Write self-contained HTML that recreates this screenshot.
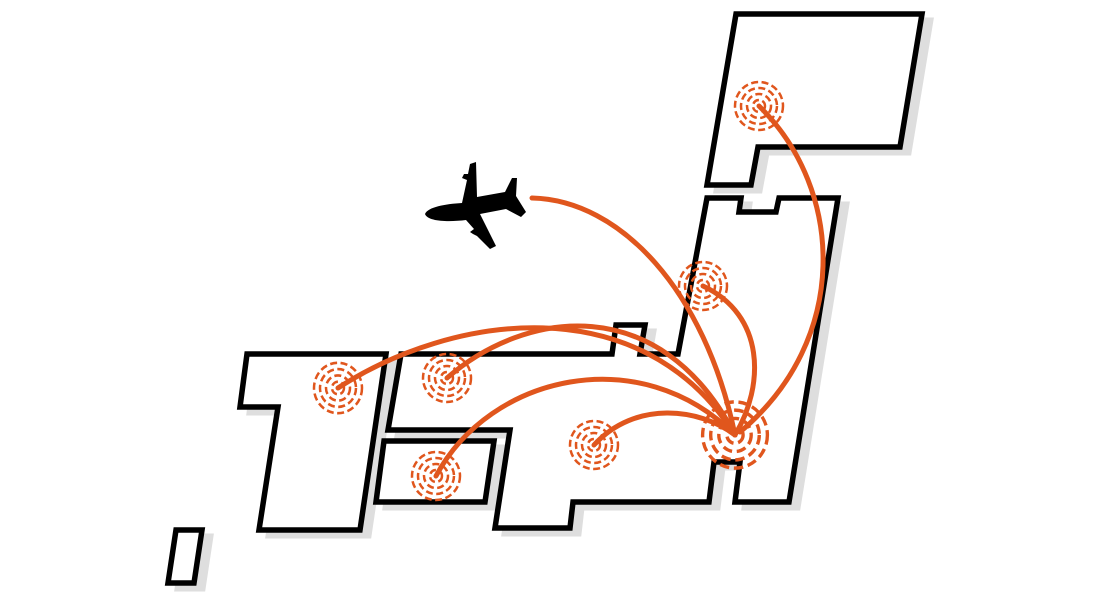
<!DOCTYPE html>
<html><head><style>html,body{margin:0;padding:0;background:#fff}svg{display:block}</style></head>
<body>
<svg width="1100" height="600" viewBox="0 0 1100 600" xmlns="http://www.w3.org/2000/svg">
<defs>
<g id="land">
<polygon points="736,14 922,14 900,147 758,147 751,185 707,185"/>
<polygon points="707,198 741,198 739,212 776,212 779,198 838,198 789,502 735,502 740,462 714,462 709,502 573,502 570,528 495,528 510,430 388,430 401,354 612,354 616,325 645,325 640,354 678,354"/>
<polygon points="247,354 386,354 360,530 259,530 278,407 240,407"/>
<polygon points="384,441 494,441 485,502 376,502"/>
<polygon points="176,530 202,530 194,583 168,583"/>
</g>
<g id="tgt" fill="none" stroke="#e0561d" stroke-width="2.5" stroke-dasharray="7,3.5">
<ellipse cx="0" cy="0" rx="24" ry="24"/>
<ellipse cx="0" cy="0" rx="18" ry="18"/>
<ellipse cx="0" cy="0" rx="12" ry="12"/>
<ellipse cx="0" cy="0" rx="6" ry="6"/>
</g>
</defs>
<use href="#land" transform="translate(9,6)" fill="#dedede" stroke="#dedede" stroke-width="5"/>
<use href="#land" fill="#fff" stroke="#000" stroke-width="5.5" stroke-linejoin="miter"/>
<use href="#tgt" transform="translate(759,106)"/>
<use href="#tgt" transform="translate(703,286)"/>
<use href="#tgt" transform="translate(338,388) scale(1,1.05)"/>
<use href="#tgt" transform="translate(447,378)"/>
<use href="#tgt" transform="translate(436,476)"/>
<use href="#tgt" transform="translate(594,445)"/>
<use href="#tgt" transform="translate(735,435) scale(1.35,1.38)"/>
<g fill="none" stroke="#e0561d" stroke-width="5" stroke-linecap="round">
<path d="M532,198 C620,200 705,290 735,435"/>
<path d="M759,106 C845,190 850,340 740,432"/>
<path d="M703,286 C765,315 765,385 735,435"/>
<path d="M338,388 C450,315 640,285 735,435"/>
<path d="M447,378 C525,310 660,290 735,435"/>
<path d="M436,476 C490,375 640,340 735,435"/>
<path d="M594,445 C635,400 700,408 735,435"/>
</g>
<path fill="#000" d="M425,214 C428,207 445,204 462,203 L467,180 L462,178 L464,174 L468,174 L470,164 L476,162 L477,197 L505,192 L512,178 L517,178 L516,196 L526,212 L521,217 L506,209 L480,214 L496,246 L490,249 L477,236 L473,234 L470,232 L474,229 L466,220 C450,222 428,222 425,214 Z"/>
</svg>
</body></html>
